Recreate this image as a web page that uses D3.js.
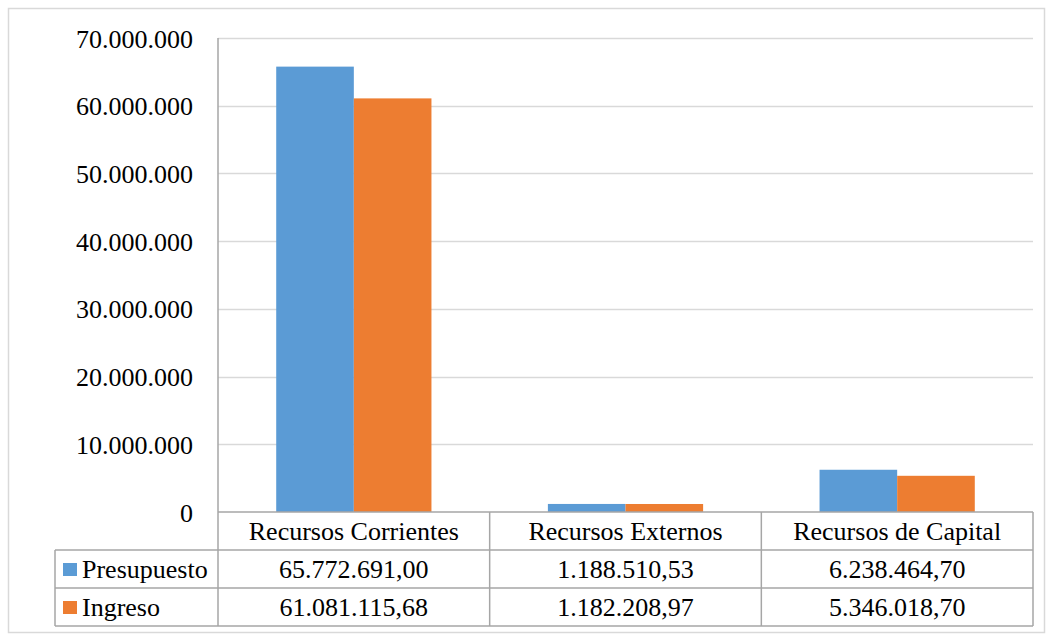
<!DOCTYPE html>
<html>
<head>
<meta charset="utf-8">
<script src="https://cdn.jsdelivr.net/npm/d3@7"></script>
<style>
  body { margin: 0; background: #fff; }
</style>
</head>
<body>
<div id="chart"></div>
<script>
// Data
const categories = ["Recursos Corrientes", "Recursos Externos", "Recursos de Capital"];
const seriesNames = ["Presupuesto", "Ingreso"];
const presupuesto = [65772691.00, 1188510.53, 6238464.70];
const ingreso = [61081115.68, 1182208.97, 5346018.70];
const tableLabels = [
  ["65.772.691,00", "1.188.510,53", "6.238.464,70"],
  ["61.081.115,68", "1.182.208,97", "5.346.018,70"]
];
const yTicks = [0, 10000000, 20000000, 30000000, 40000000, 50000000, 60000000, 70000000];

const colors = ["#5B9BD5", "#ED7D31"];
const FONT = "Liberation Serif";
const FS = 26;
const W = 1049, H = 635;
const plot = {left: 218, right: 1033, top: 38, bottom: 512};
const rowH = 38;

const svg = d3.select("#chart")
  .append("svg")
    .attr("width", W)
    .attr("height", H);

// Outer chart border
svg.append("rect")
  .attr("x", 8.5).attr("y", 8.5)
  .attr("width", 1036).attr("height", 624)
  .attr("fill", "none").attr("stroke", "#d9d9d9").attr("stroke-width", 1.5);

// Scales
const x = d3.scaleBand()
  .domain(categories)
  .range([plot.left, plot.right]);
const y = d3.scaleLinear()
  .domain([0, 70000000])
  .range([plot.bottom, plot.top]);
const xs = d3.scaleBand()
  .domain(seriesNames)
  .range([0, x.bandwidth()])
  .paddingOuter(0.75)
  .paddingInner(0);

// Gridlines
svg.append("g")
  .selectAll("line")
  .data(yTicks.filter(d => d > 0))
  .join("line")
    .attr("x1", plot.left).attr("x2", plot.right)
    .attr("y1", d => Math.round(y(d)) + 0.5)
    .attr("y2", d => Math.round(y(d)) + 0.5)
    .attr("stroke", "#d9d9d9").attr("stroke-width", 1.5);

// Y axis labels
const fmt = d3.formatLocale({decimal: ",", thousands: ".", grouping: [3], currency: ["", ""]}).format(",.0f");
svg.append("g")
  .attr("transform", `translate(${plot.left},0)`)
  .call(d3.axisLeft(y).tickValues(yTicks).tickFormat(fmt).tickSize(0).tickPadding(25))
  .call(g => g.select(".domain").remove())
  .selectAll("text")
    .style("font-family", FONT)
    .style("font-size", FS + "px")
    .attr("fill", "#000")
    .attr("dy", "0.35em");

// Bars
const series = [presupuesto, ingreso];
series.forEach((vals, si) => {
  svg.append("g")
    .selectAll("rect")
    .data(vals)
    .join("rect")
      .attr("x", (d, i) => x(categories[i]) + xs(seriesNames[si]))
      .attr("y", d => y(d))
      .attr("width", xs.bandwidth())
      .attr("height", d => plot.bottom - y(d))
      .attr("fill", colors[si]);
});

// Table lines
const lineColor = "#a6a6a6";
const tableBottom = plot.bottom + rowH * 3;
const lines = svg.append("g").attr("stroke", lineColor).attr("stroke-width", 1.5);
[plot.left, ...categories.map(c => x(c) + x.bandwidth())].forEach((xv, i) => {
  lines.append("line")
    .attr("x1", xv).attr("x2", xv)
    .attr("y1", i === 0 ? plot.top : plot.bottom).attr("y2", tableBottom);
});
[plot.bottom, plot.bottom + rowH].forEach(yv => {
  lines.append("line").attr("x1", plot.left).attr("x2", plot.right).attr("y1", yv).attr("y2", yv);
});
[plot.bottom + rowH * 2, tableBottom].forEach(yv => {
  lines.append("line").attr("x1", 55).attr("x2", plot.right).attr("y1", yv).attr("y2", yv);
});
lines.append("line").attr("x1", 55).attr("x2", 55).attr("y1", plot.bottom + rowH).attr("y2", tableBottom);
lines.append("line").attr("x1", 55).attr("x2", plot.left).attr("y1", plot.bottom + rowH).attr("y2", plot.bottom + rowH);

function styleText(sel) {
  return sel.style("font-family", FONT).style("font-size", FS + "px").attr("fill", "#000");
}

// Header row (category names)
svg.append("g")
  .selectAll("text")
  .data(categories)
  .join("text")
    .attr("x", d => x(d) + x.bandwidth() / 2)
    .attr("y", plot.bottom + rowH / 2)
    .attr("dy", "0.35em")
    .attr("text-anchor", "middle")
    .call(styleText)
    .text(d => d);

// Data rows
seriesNames.forEach((name, si) => {
  const rowY = plot.bottom + rowH * (si + 1);
  svg.append("rect")
    .attr("x", 63).attr("y", rowY + rowH / 2 - 6)
    .attr("width", 14).attr("height", 13)
    .attr("fill", colors[si]);
  svg.append("text")
    .attr("x", 82).attr("y", rowY + rowH / 2)
    .attr("dy", "0.35em")
    .call(styleText)
    .text(name);
  svg.append("g")
    .selectAll("text")
    .data(tableLabels[si])
    .join("text")
      .attr("x", (d, i) => x(categories[i]) + x.bandwidth() / 2)
      .attr("y", rowY + rowH / 2)
      .attr("dy", "0.35em")
      .attr("text-anchor", "middle")
      .call(styleText)
      .text(d => d);
});
</script>
</body>
</html>
